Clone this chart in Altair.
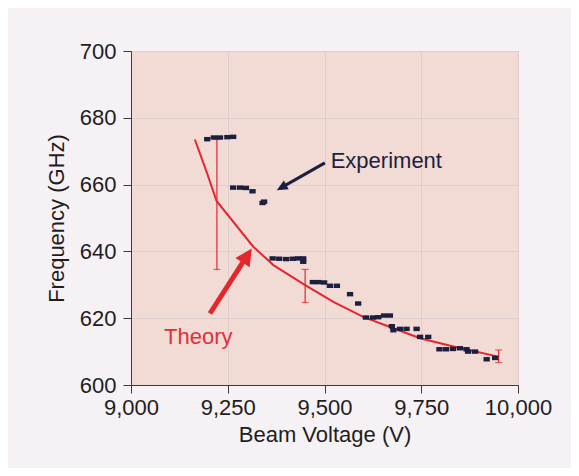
import altair as alt
import pandas as pd

# Experiment data (Beam voltage V, Frequency GHz)
exp_v = [9197, 9214, 9230, 9249, 9264,
         9264, 9282, 9297, 9314, 9340, 9344,
         9366, 9383, 9401, 9418, 9432, 9445, 9445,
         9470, 9484, 9499, 9514, 9532,
         9566, 9587,
         9607, 9625, 9639, 9654, 9669,
         9674, 9678, 9695, 9712, 9738,
         9747, 9768,
         9797, 9814, 9832, 9850, 9867, 9871, 9889,
         9919, 9941]
exp_f = [673.6, 674.1, 674.1, 674.2, 674.3,
         659.1, 659.1, 659.0, 658.0, 654.5, 654.9,
         637.9, 637.8, 637.7, 637.8, 637.9, 637.9, 636.9,
         630.8, 630.8, 630.7, 629.7, 629.7,
         627.2, 624.4,
         620.2, 620.2, 620.3, 620.8, 620.8,
         617.6, 616.4, 616.8, 616.8, 616.8,
         614.4, 614.4,
         610.7, 610.7, 610.8, 611.0, 610.7, 610.0, 610.0,
         607.7, 608.1]

# Theory curve
theory_v = [9165, 9197, 9221, 9316, 9368, 9450, 9523, 9600, 9678, 9747, 9833, 9949]
theory_f = [673.5, 663.3, 655.1, 641.4, 635.9, 629.9, 624.9, 620.4, 617.0, 614.0, 611.5, 608.5]

# Error bars on theory
err_v = [9222, 9450, 9950]
err_lo = [634.6, 624.7, 606.7]
err_hi = [673.5, 634.6, 610.5]

# Axis ticks
x_ticks = [9000, 9250, 9500, 9750, 10000]
y_ticks = [600, 620, 640, 660, 680, 700]

# Annotations
exp_label = "Experiment"
exp_label_pos = (9516, 665.1)
exp_arrow_tail = (9501, 666.5)
exp_arrow_tip = (9376.5, 658.3)
exp_arrow_angle = 240.5

th_label = "Theory"
th_label_pos = (9174, 612.3)
th_arrow_tail = (9204, 621.4)
th_arrow_tip = (9312, 640.9)
th_arrow_angle = 32.7

RED = "#e4262f"
NAVY = "#1c1f3e"
FONT = "Liberation Sans"

x_scale = alt.Scale(domain=[9000, 10000], nice=False)
y_scale = alt.Scale(domain=[600, 700], nice=False, zero=False)

x_axis = alt.Axis(values=x_ticks, format=",.0f", title="Beam Voltage (V)", labelFlush=False)
y_axis = alt.Axis(values=y_ticks, format=".0f", title="Frequency (GHz)", labelFlush=False)


def X(field="v"):
    return alt.X(f"{field}:Q", scale=x_scale, axis=x_axis)


def Y(field="f"):
    return alt.Y(f"{field}:Q", scale=y_scale, axis=y_axis)


theory_df = pd.DataFrame({"v": theory_v, "f": theory_f})
exp_df = pd.DataFrame({"v": exp_v, "f": exp_f})
err_df = pd.DataFrame({"v": err_v, "f": err_lo, "f2": err_hi})
caps_df = pd.DataFrame({"v": err_v + err_v, "f": err_lo + err_hi})

theory = alt.Chart(theory_df).mark_line(color=RED, strokeWidth=2).encode(x=X(), y=Y())
err_rule = alt.Chart(err_df).mark_rule(color=RED, strokeWidth=1.2).encode(
    x=X(), y=Y(), y2="f2:Q")
err_caps = alt.Chart(caps_df).mark_tick(
    color=RED, orient="horizontal", size=7, thickness=1.2).encode(x=X(), y=Y())

exp_pts = alt.Chart(exp_df).mark_point(
    shape="M-1,-0.7H1V0.7H-1Z", filled=True, size=40, color=NAVY, opacity=1
).encode(x=X(), y=Y())


def shorten(tail, tip, frac):
    return (tail[0] + (tip[0] - tail[0]) * frac, tail[1] + (tip[1] - tail[1]) * frac)


exp_line_end = shorten(exp_arrow_tail, exp_arrow_tip, 0.85)
th_line_end = shorten(th_arrow_tail, th_arrow_tip, 0.82)

exp_arrow_df = pd.DataFrame({"v": [exp_arrow_tail[0], exp_line_end[0]],
                             "f": [exp_arrow_tail[1], exp_line_end[1]], "o": [0, 1]})
th_arrow_df = pd.DataFrame({"v": [th_arrow_tail[0], th_line_end[0]],
                            "f": [th_arrow_tail[1], th_line_end[1]], "o": [0, 1]})

exp_arrow = alt.Chart(exp_arrow_df).mark_line(color=NAVY, strokeWidth=3).encode(
    x=X(), y=Y(), order="o:Q")
th_arrow = alt.Chart(th_arrow_df).mark_line(color=RED, strokeWidth=5).encode(
    x=X(), y=Y(), order="o:Q")

exp_head = alt.Chart(pd.DataFrame({"v": [exp_arrow_tip[0]], "f": [exp_arrow_tip[1]]})).mark_point(
    shape="M0,0L0.45,1L-0.45,1Z", filled=True, size=484, angle=exp_arrow_angle,
    color=NAVY, opacity=1, strokeWidth=0).encode(x=X(), y=Y())
th_head = alt.Chart(pd.DataFrame({"v": [th_arrow_tip[0]], "f": [th_arrow_tip[1]]})).mark_point(
    shape="M0,0L0.5,1L-0.5,1Z", filled=True, size=1156, angle=th_arrow_angle,
    color=RED, opacity=1, strokeWidth=0).encode(x=X(), y=Y())

exp_text = alt.Chart(pd.DataFrame({"v": [exp_label_pos[0]], "f": [exp_label_pos[1]], "t": [exp_label]})).mark_text(
    align="left", baseline="alphabetic", fontSize=22, font=FONT, color=NAVY
).encode(x=X(), y=Y(), text="t:N")
th_text = alt.Chart(pd.DataFrame({"v": [th_label_pos[0]], "f": [th_label_pos[1]], "t": [th_label]})).mark_text(
    align="center", baseline="alphabetic", fontSize=22, font=FONT, color="#e0303c"
).encode(x=X(), y=Y(), text="t:N")

chart = alt.layer(
    err_rule, err_caps, theory, exp_pts, exp_arrow, th_arrow, exp_head, th_head, exp_text, th_text
).properties(
    width=387, height=334,
    autosize="none",
    padding={"left": 123, "top": 43, "right": 53, "bottom": 83},
    background="#f5f1f4",
).configure_view(
    fill="#f2dad5", stroke="#8e8686", strokeWidth=1
).configure_axis(
    grid=True, gridColor="#dccfcd", gridWidth=1,
    domainColor="#3a3a3a", tickColor="#3a3a3a", tickSize=8, tickWidth=1,
    labelFont=FONT, labelFontSize=22, labelColor="#1e1e1e", labelPadding=4,
    titleFont=FONT, titleFontSize=22, titleColor="#1e1e1e", titleFontWeight="normal",
).configure_axisY(titlePadding=11, labelPadding=7).configure_axisX(titlePadding=6)

chart.save("out.html", embed_options={"renderer": "svg", "actions": False})
